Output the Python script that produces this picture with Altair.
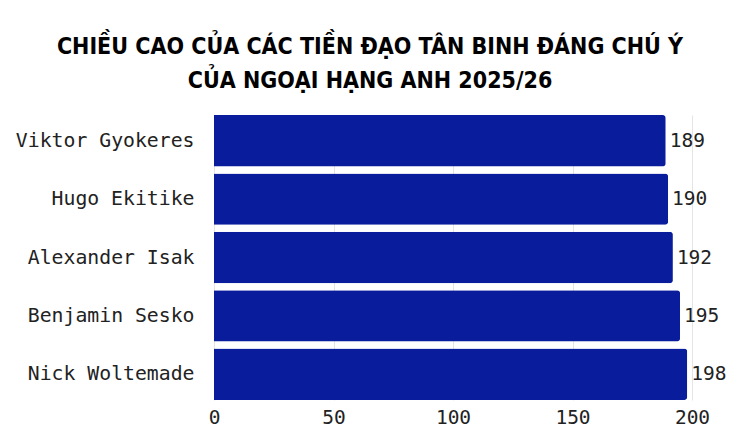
import pandas as pd
import altair as alt

# Chiều cao (cm) của các tiền đạo tân binh
players = ['Viktor Gyokeres', 'Hugo Ekitike', 'Alexander Isak', 'Benjamin Sesko', 'Nick Woltemade']
heights = [189, 190, 192, 195, 198]
x_ticks = [0, 50, 100, 150, 200]

df = pd.DataFrame({'player': players, 'height': heights})

mono = 'DejaVu Sans Mono'

base = alt.Chart(df).encode(
    y=alt.Y('player:N', sort=players, title=None,
            scale=alt.Scale(paddingInner=0.12, paddingOuter=0),
            axis=alt.Axis(ticks=False, domain=False, labelPadding=20,
                          labelFont=mono, labelFontSize=19.8, labelColor='#222222')),
    x=alt.X('height:Q', title=None,
            scale=alt.Scale(domain=[0, 200]),
            axis=alt.Axis(values=x_ticks, ticks=False, domain=False, labelPadding=8,
                          labelFont=mono, labelFontSize=19.5, labelColor='#222222',
                          grid=True, gridColor='#e4e4e4', labelFlush=False))
)

bars = base.mark_bar(color='#081c9c', cornerRadiusEnd=3)

labels = base.mark_text(align='left', dx=4, font=mono, fontSize=19.5, color='#222222').encode(
    text='height:Q'
)

chart = (bars + labels).properties(
    width=478,
    height=285,
    padding={'left': 206, 'top': 107, 'right': 40, 'bottom': 27},
    autosize='none',
    title=alt.TitleParams(
        ['CHIỀU CAO CỦA CÁC TIỀN ĐẠO TÂN BINH ĐÁNG CHÚ Ý', 'CỦA NGOẠI HẠNG ANH 2025/26'],
        font='DejaVu Sans Condensed, DejaVu Sans, sans-serif',
        fontSize=23, fontWeight='bold', color='#000000',
        anchor='middle', dx=-83, offset=22, lineHeight=34
    )
).configure_view(stroke=None)

chart.save('out.html', embed_options={'renderer': 'svg', 'actions': False})
